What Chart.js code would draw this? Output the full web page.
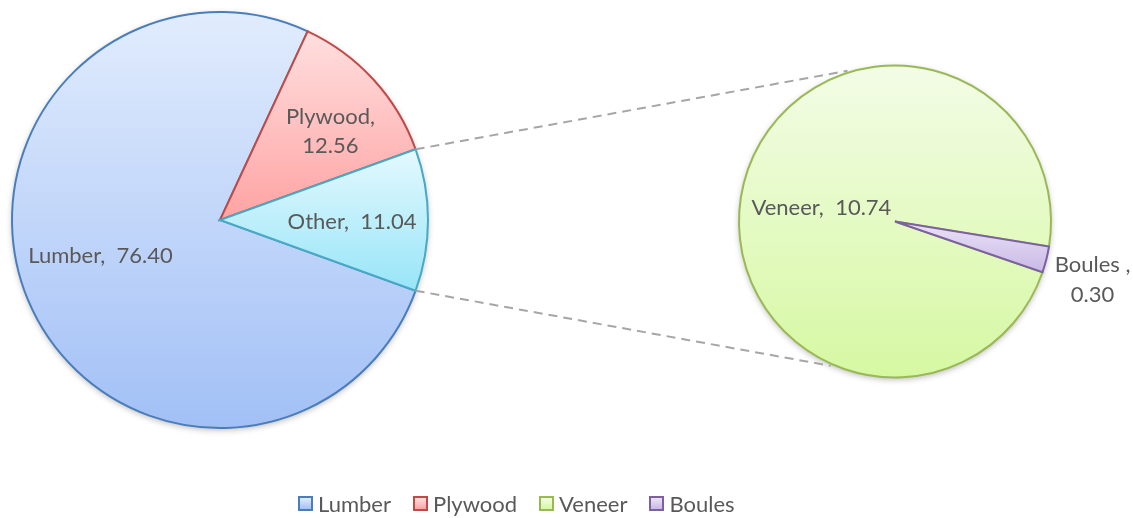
<!DOCTYPE html>
<html>
<head>
<meta charset="utf-8">
<script src="https://cdn.jsdelivr.net/npm/chart.js@4/dist/chart.umd.min.js"></script>
<style>
  body { margin: 0; background: #fff; }
  #wrap { position: relative; width: 1133px; height: 518px; font-family: Lato, sans-serif; }
  #wrap canvas { position: absolute; left: 0; top: 0; }
  #legend { position: absolute; left: 298px; top: 490px; display: flex; align-items: center; color: #595959; font-size: 22px; }
  #legend .item { display: flex; align-items: center; margin-right: 22px; }
  #legend .box { width: 15px; height: 15px; box-sizing: border-box; border: 2px solid; margin-right: 5px; }
</style>
</head>
<body>
<div id="wrap">
  <canvas id="mainPie" width="1133" height="518"></canvas>
  <canvas id="subPie" width="1133" height="518"></canvas>
  <div id="legend"></div>
</div>
<script>
// 데이터
const mainLabels = ['Lumber', 'Plywood', 'Other'];
const mainValues = [76.40, 12.56, 11.04];
const subLabels = ['Veneer', 'Boules'];
const subValues = [10.74, 0.30];
const legendLabels = ['Lumber', 'Plywood', 'Veneer', 'Boules'];

// 색상
const colors = {
  Lumber:  { top: '#e1ecfd', bottom: '#a2c0f6', line: '#4a7ebb' },
  Plywood: { top: '#ffdfdf', bottom: '#ffa3a3', line: '#be4b48' },
  Other:   { top: '#e4f9fe', bottom: '#98e5f8', line: '#46aac5' },
  Veneer:  { top: '#f3fce6', bottom: '#d6f8a2', line: '#98b954' },
  Boules:  { top: '#ebe4f6', bottom: '#c9b8e6', line: '#7d60a0' }
};

const MAIN_ROT = 90 + 11.04 / 100 * 180;  // Other 조각을 3시 방향 중앙에
const SUB_ROT = 109;
const MAIN_R = 208;
const SUB_R = 156;
const FONT = '22px Lato, sans-serif';
const TEXT_COLOR = '#595959';

// 라벨 문자열
function makeLines(labels, values, seps) {
  return labels.map((l, i) => (l + seps[i] + values[i].toFixed(2)).split('\n'));
}

// 조각마다 세로 그라데이션
function sliceFill(labels, values, rotation, radius) {
  return function (ctx) {
    const chart = ctx.chart;
    const area = chart.chartArea;
    const c = colors[labels[ctx.dataIndex]];
    if (!area) return c.bottom;
    const cx = (area.left + area.right) / 2;
    const cy = (area.top + area.bottom) / 2;
    const total = values.reduce((a, b) => a + b, 0);
    let a0 = (rotation - 90) * Math.PI / 180;
    for (let i = 0; i < ctx.dataIndex; i++) a0 += values[i] / total * 2 * Math.PI;
    const a1 = a0 + values[ctx.dataIndex] / total * 2 * Math.PI;
    const ys = [cy, cy + radius * Math.sin(a0), cy + radius * Math.sin(a1)];
    [-Math.PI / 2, Math.PI / 2].forEach(t => {
      let k = t;
      while (k < a0) k += 2 * Math.PI;
      if (k <= a1) ys.push(cy + radius * Math.sin(k));
    });
    const g = chart.ctx.createLinearGradient(0, Math.min(...ys), 0, Math.max(...ys));
    g.addColorStop(0, c.top);
    g.addColorStop(1, c.bottom);
    return g;
  };
}

// 그림자
const pieShadow = {
  id: 'pieShadow',
  beforeDatasetsDraw(chart) {
    const arc = chart.getDatasetMeta(0).data[0];
    if (!arc) return;
    const ctx = chart.ctx;
    ctx.save();
    ctx.shadowColor = 'rgba(0,0,0,0.28)';
    ctx.shadowBlur = 6;
    ctx.shadowOffsetY = 2;
    ctx.fillStyle = '#fff';
    ctx.beginPath();
    ctx.arc(arc.x, arc.y, arc.outerRadius, 0, Math.PI * 2);
    ctx.fill();
    ctx.restore();
  }
};

// 조각 라벨
const sliceLabels = {
  id: 'sliceLabels',
  afterDatasetsDraw(chart, args, opts) {
    const ctx = chart.ctx;
    const meta = chart.getDatasetMeta(0);
    ctx.save();
    ctx.font = FONT;
    ctx.fillStyle = TEXT_COLOR;
    ctx.textAlign = 'center';
    ctx.textBaseline = 'middle';
    meta.data.forEach((arc, i) => {
      const p = opts.place[i];
      const a = (arc.startAngle + arc.endAngle) / 2 + p.shift * Math.PI / 180;
      const lx = arc.x + Math.cos(a) * arc.outerRadius * p.r;
      const ly = arc.y + Math.sin(a) * arc.outerRadius * p.r;
      const lines = opts.lines[i];
      lines.forEach((t, j) => ctx.fillText(t, lx, ly + (j - (lines.length - 1) / 2) * opts.lineHeight));
    });
    ctx.restore();
  }
};

let mainChart;

// 연결 점선
const connectors = {
  id: 'connectors',
  beforeDatasetsDraw(chart, args, opts) {
    const src = mainChart.getDatasetMeta(0).data[opts.from];
    const dst = chart.getDatasetMeta(0).data[0];
    if (!src || !dst) return;
    const ctx = chart.ctx;
    const ends = [src.startAngle, src.endAngle];
    ctx.save();
    ctx.strokeStyle = '#a6a6a6';
    ctx.lineWidth = 2;
    ctx.setLineDash([9, 6]);
    opts.angles.forEach((deg, i) => {
      const t = deg * Math.PI / 180;
      ctx.beginPath();
      ctx.moveTo(src.x + Math.cos(ends[i]) * src.outerRadius, src.y + Math.sin(ends[i]) * src.outerRadius);
      ctx.lineTo(dst.x + Math.cos(t) * (dst.outerRadius + 2), dst.y + Math.sin(t) * (dst.outerRadius + 2));
      ctx.stroke();
    });
    ctx.restore();
  }
};

function pieConfig(labels, values, rotation, radius, padding, labelOpts, extra) {
  return {
    type: 'pie',
    data: {
      labels: labels,
      datasets: [{
        data: values,
        backgroundColor: sliceFill(labels, values, rotation, radius),
        borderColor: labels.map(l => colors[l].line),
        borderWidth: 2,
        borderJoinStyle: 'miter',
        hoverOffset: 0
      }]
    },
    options: {
      responsive: false,
      animation: false,
      rotation: rotation,
      radius: radius,
      layout: { padding: padding },
      plugins: {
        legend: { display: false },
        tooltip: { enabled: false },
        sliceLabels: labelOpts,
        connectors: extra
      },
      events: []
    },
    plugins: [pieShadow, sliceLabels].concat(extra ? [connectors] : [])
  };
}

mainChart = new Chart(document.getElementById('mainPie'), pieConfig(
  mainLabels, mainValues, MAIN_ROT, MAIN_R,
  { left: 12, top: 12, right: 705, bottom: 90 },
  {
    lines: makeLines(mainLabels, mainValues, [',  ', ',\n', ',  ']),
    place: [{ r: 0.6, shift: 5.8 }, { r: 0.68, shift: 3.8 }, { r: 0.635, shift: 1 }],
    lineHeight: 29
  },
  null
));

new Chart(document.getElementById('subPie'), pieConfig(
  subLabels, subValues, SUB_ROT, SUB_R,
  { left: 739, top: 66, right: 82, bottom: 141 },
  {
    lines: makeLines(subLabels, subValues, [',  ', ' ,\n']),
    place: [{ r: 0.48, shift: -3.6 }, { r: 1.32, shift: 2.3 }],
    lineHeight: 30
  },
  { from: 2, angles: [-107.5, 114] }
));

// 범례
document.getElementById('legend').innerHTML = legendLabels.map(l => `
  <div class="item">
    <span class="box" style="border-color:${colors[l].line};background:linear-gradient(${colors[l].top},${colors[l].bottom})"></span>
    <span>${l}</span>
  </div>
`).join('');
</script>
</body>
</html>
